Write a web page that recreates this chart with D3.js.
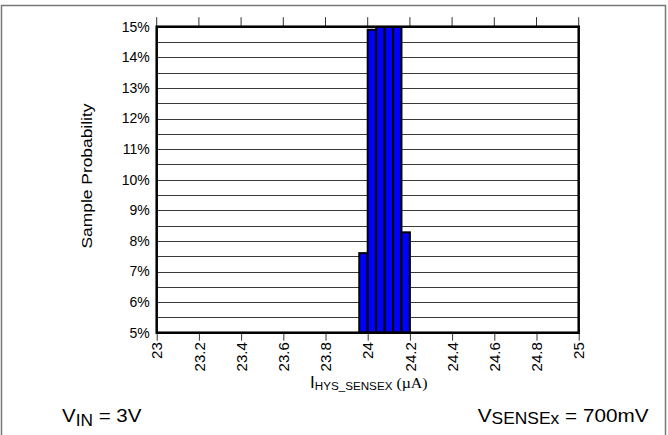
<!DOCTYPE html>
<html><head><meta charset="utf-8">
<script src="https://cdn.jsdelivr.net/npm/d3@7"></script>
<style>body{margin:0;background:#fff}svg{display:block}text{font-family:Arial,"Liberation Sans",sans-serif}</style>
</head><body><svg id="c" width="668" height="435"></svg>
<script>
const binStarts = [23.96, 24.00, 24.04, 24.08, 24.12, 24.16];
const binWidth = 0.04;
const probabilities = [7.6, 14.9, 15, 15, 15, 8.28];
const xTicks = [23, 23.2, 23.4, 23.6, 23.8, 24, 24.2, 24.4, 24.6, 24.8, 25];
const yTicks = [5, 6, 7, 8, 9, 10, 11, 12, 13, 14, 15];
const yGrid = d3.range(5, 15.01, 0.5);

const svg = d3.select("#c");
const L = 156.7, R = 578.7, T = 26.7, B = 332.7;
const x = d3.scaleLinear().domain([23, 25]).range([L, R]);
const y = d3.scaleLinear().domain([5, 15]).range([B, T]);
const FONT = "Arial, 'Liberation Sans', sans-serif";

// outer frame
svg.append("path").attr("d", "M1.5,435V5.5H665.5V435").attr("fill", "none").attr("stroke", "#777").attr("stroke-width", 1.5);

// gridlines
svg.append("g").selectAll("line").data(yGrid).join("line")
  .attr("x1", L).attr("x2", R).attr("y1", d => Math.round(y(d)) + 0.5).attr("y2", d => Math.round(y(d)) + 0.5)
  .attr("stroke", "#3a3a3a").attr("stroke-width", 1);

// clip
svg.append("defs").append("clipPath").attr("id", "clip").append("rect")
  .attr("x", L).attr("y", T).attr("width", R - L).attr("height", B - T);

// bars
svg.append("g").attr("clip-path", "url(#clip)").selectAll("rect").data(binStarts).join("rect")
  .attr("x", d => x(d)).attr("width", d => x(d + binWidth) - x(d))
  .attr("y", (d, i) => y(probabilities[i])).attr("height", (d, i) => B - y(probabilities[i]))
  .attr("fill", "#0000ff").attr("stroke", "#000").attr("stroke-width", 2);

// top ticks
svg.append("g").selectAll("line").data(xTicks).join("line")
  .attr("x1", d => x(d)).attr("x2", d => x(d)).attr("y1", T - 9.5).attr("y2", T)
  .attr("stroke", "#333").attr("stroke-width", 1);

// bottom axis
const xAxis = d3.axisBottom(x).tickValues(xTicks).tickSize(8).tickPadding(3).tickFormat(d3.format("~g"));
const gx = svg.append("g").attr("transform", `translate(0,${B})`).call(xAxis);
gx.select(".domain").remove();
gx.selectAll(".tick line").attr("stroke", "#333");
gx.selectAll(".tick text").attr("transform", "rotate(-90)").attr("x", -9.5).attr("y", 0).attr("dy", "0.35em")
  .attr("text-anchor", "end").attr("font-size", 15).attr("fill", "#000").style("font-family", FONT);

// left axis
const yAxis = d3.axisLeft(y).tickValues(yTicks).tickSize(0).tickPadding(7).tickFormat(d => d + "%");
const gy = svg.append("g").attr("transform", `translate(${L},0)`).call(yAxis);
gy.select(".domain").remove();
gy.selectAll(".tick text").attr("font-size", 14).attr("fill", "#000").style("font-family", FONT);

// plot border
svg.append("rect").attr("x", L).attr("y", T).attr("width", R - L).attr("height", B - T)
  .attr("fill", "none").attr("stroke", "#000").attr("stroke-width", 2.5);

// y title
svg.append("text").attr("transform", "translate(92,176) rotate(-90)").attr("text-anchor", "middle")
  .attr("font-size", 14).attr("textLength", 145).attr("lengthAdjust", "spacingAndGlyphs").text("Sample Probability");

// x title
const xtg = svg.append("g").attr("transform", "translate(310,388) scale(1.06,1)");
const xt = xtg.append("text").attr("x", 0).attr("y", 0).attr("font-size", 16);
xt.append("tspan").text("I");
xt.append("tspan").attr("font-size", 11).attr("dy", 2).text("HYS_SENSEX");
xt.append("tspan").attr("dy", -2).attr("font-family", "'Liberation Serif','Times New Roman',serif").attr("font-size", 15).text(" (µA)");

// notes
const g1 = svg.append("g").attr("transform", "translate(62,421.5) scale(1.08,1)");
const t1 = g1.append("text").attr("font-size", 19);
t1.append("tspan").text("V");
t1.append("tspan").attr("font-size", 16).attr("dy", 4).text("IN");
t1.append("tspan").attr("dy", -4).text(" = 3V");

const g2 = svg.append("g").attr("transform", "translate(648.5,421.5) scale(1.09,1)");
const t2 = g2.append("text").attr("font-size", 19).attr("text-anchor", "end");
t2.append("tspan").text("V");
t2.append("tspan").attr("font-size", 16).attr("dy", 2).text("SENSEx");
t2.append("tspan").attr("dy", -2).text(" = 700mV");
</script></body></html>
